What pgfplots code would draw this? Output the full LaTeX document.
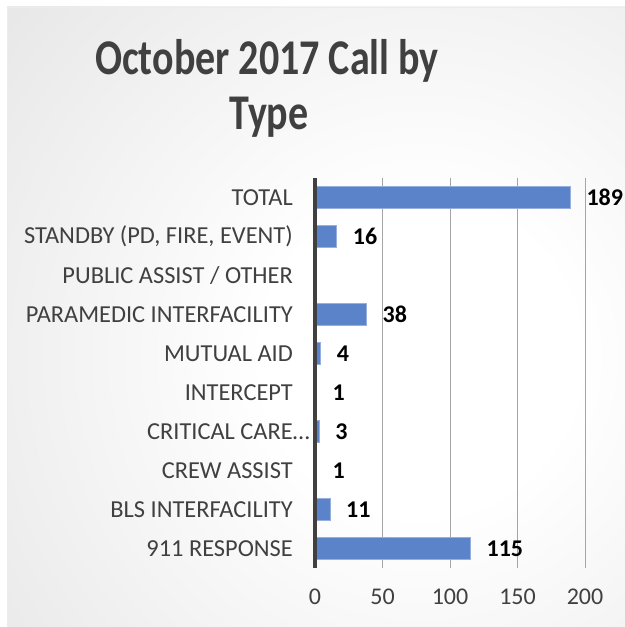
\documentclass[border=0pt]{standalone}
\usepackage{pgfplots}
\pgfplotsset{compat=1.18}
\usepackage{fontspec}
\setmainfont{Carlito}
\definecolor{bgouter}{RGB}{196,196,196}
\definecolor{txtgray}{RGB}{64,64,64}
\definecolor{barblue}{RGB}{91,131,201}
\definecolor{baredge}{RGB}{150,175,222}
\definecolor{gridgray}{RGB}{165,165,165}
\pgfdeclareradialshading{bgshade}{\pgfpoint{0bp}{0bp}}{color(0bp)=(white); color(7bp)=(white); color(50bp)=(bgouter)}
\begin{document}
\begin{tikzpicture}
\useasboundingbox (0,0) rectangle (625bp,627bp);
\fill[white] (0,0) rectangle (625bp,627bp);
\begin{scope}
\clip (7bp,0bp) rectangle (625bp,620bp);
\shade[shading=bgshade] (420bp,270bp) circle (560bp);
\end{scope}
\draw[color=white!85!gray, line width=0.8bp] (7bp,0bp) -- (7bp,620bp) -- (625bp,620bp);
\node[anchor=base, xscale=0.8, text=txtgray, font=\fontsize{50bp}{60bp}\selectfont\bfseries, inner sep=0pt] at (267bp,552bp) {October 2017 Call by};
\node[anchor=base, xscale=0.8, text=txtgray, font=\fontsize{50bp}{60bp}\selectfont\bfseries, inner sep=0pt] at (269bp,497bp) {Type};
\begin{axis}[
  at={(315bp,59bp)}, anchor=south west,
  scale only axis, width=270bp, height=390bp,
  xmin=0, xmax=200, ymin=-0.5, ymax=9.5,
  xtick={0,50,100,150,200},
  ytick={0,1,2,3,4,5,6,7,8,9},
  yticklabels={911 RESPONSE, BLS INTERFACILITY, CREW ASSIST, CRITICAL CARE\rlap{…}, INTERCEPT, MUTUAL AID, PARAMEDIC INTERFACILITY, PUBLIC ASSIST / OTHER, {STANDBY (PD, FIRE, EVENT)}, TOTAL},
  axis line style={draw=none},
  major tick length=0pt,
  xmajorgrids, ymajorgrids=false,
  grid style={color=gridgray, line width=0.8bp},
  /pgf/number format/assume math mode=true,
  xticklabel style={anchor=north, inner sep=0pt, yshift=-21bp, text=txtgray, font=\fontsize{24bp}{28bp}\selectfont},
  yticklabel style={anchor=east, inner sep=0pt, xshift=-22bp, text=txtgray, font=\fontsize{24.4bp}{28bp}\selectfont},
  clip=false,
]
\addplot[xbar, bar width=22bp, fill=barblue, draw=baredge, line width=0.7bp,
  point meta=x, nodes near coords,
  every node near coord/.append style={anchor=west, inner sep=0pt, xshift=16bp, text=black, font=\fontsize{24bp}{28bp}\selectfont\bfseries}]
  coordinates {(115,0) (11,1) (1,2) (3,3) (1,4) (4,5) (38,6) (16,8) (189,9)};
\draw[color=txtgray, line width=3bp] (axis cs:0,-0.5) -- (axis cs:0,9.5);
\end{axis}
\end{tikzpicture}
\end{document}
